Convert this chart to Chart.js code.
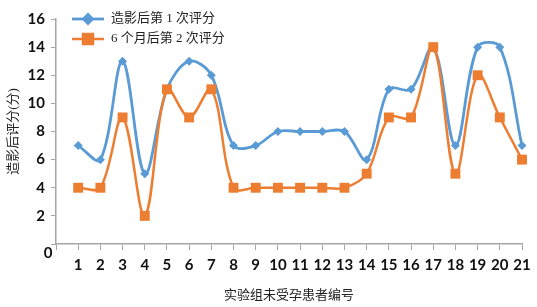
<!DOCTYPE html>
<html>
<head>
<meta charset="utf-8">
<script src="https://cdn.jsdelivr.net/npm/chart.js@4.4.0/dist/chart.umd.min.js"></script>
<style>
  body { margin: 0; background: #fff; }
  #wrap { width: 537px; height: 307px; position: relative; }
</style>
</head>
<body>
<div id="wrap"><canvas id="chart"></canvas></div>
<script>
'use strict';

// 患者编号 (x 轴)
const patients = ['1','2','3','4','5','6','7','8','9','10','11','12','13','14','15','16','17','18','19','20','21'];
// 造影后第 1 次评分
const firstScores = [7, 6, 13, 5, 11, 13, 12, 7, 7, 8, 8, 8, 8, 6, 11, 11, 14, 7, 14, 14, 7];
// 6 个月后第 2 次评分
const secondScores = [4, 4, 9, 2, 11, 9, 11, 4, 4, 4, 4, 4, 4, 5, 9, 9, 14, 5, 12, 9, 6];
const yTicks = [0, 2, 4, 6, 8, 10, 12, 14, 16];

const labelFont = { family: 'Lato', size: 15, weight: 'bold' };
const cjkFont = '"Liberation Serif", "Noto Sans CJK SC", serif';
const blue = '#5b9bd5';
const orange = '#ed7d31';

// 第一个空类目让 1 号从坐标轴起点右移一格
const labels = [''].concat(patients);

// 左上角图例 (线 + 标记)
const legendPlugin = {
    id: 'lineLegend',
    afterDraw(chart) {
        const ctx = chart.ctx;
        const items = [chart.data.datasets[1], chart.data.datasets[0]];
        ctx.save();
        items.forEach((ds, i) => {
            const y = 19 + i * 20;
            ctx.strokeStyle = ds.borderColor;
            ctx.lineWidth = ds.borderWidth;
            ctx.beginPath();
            ctx.moveTo(72, y);
            ctx.lineTo(104, y);
            ctx.stroke();
            Chart.helpers.drawPoint(ctx, {
                pointStyle: ds.pointStyle,
                radius: ds.pointRadius,
                borderWidth: 1
            }, 88, y);
            ctx.fillStyle = ds.borderColor;
            ctx.fill();
            ctx.fillStyle = '#222';
            ctx.font = '13px ' + cjkFont;
            ctx.textBaseline = 'middle';
            ctx.textAlign = 'left';
            ctx.fillText(ds.label, 111, y);
        });
        // 原点 "0"
        const ys = chart.scales.y;
        ctx.font = 'bold 15px Lato';
        ctx.textAlign = 'center';
        ctx.fillStyle = '#111';
        ctx.fillText('0', ys.right - 8, ys.getPixelForValue(0) + 9);
        ctx.restore();
    }
};

new Chart(document.getElementById('chart'), {
    type: 'line',
    data: {
        labels: labels,
        datasets: [
            {
                label: '6 个月后第 2 次评分',
                data: [null].concat(secondScores),
                borderColor: orange,
                backgroundColor: orange,
                borderWidth: 2.5,
                pointStyle: 'rect',
                pointRadius: 7,
                pointBorderWidth: 0,
                tension: 0.35,
                order: 0
            },
            {
                label: '造影后第 1 次评分',
                data: [null].concat(firstScores),
                borderColor: blue,
                backgroundColor: blue,
                borderWidth: 2.8,
                pointStyle: 'rectRot',
                pointRadius: 4.5,
                pointBorderWidth: 0,
                tension: 0.35,
                order: 1
            }
        ]
    },
    options: {
        responsive: true,
        maintainAspectRatio: false,
        animation: false,
        layout: { padding: { left: 0, right: 15, top: 19, bottom: 0 } },
        plugins: {
            legend: { display: false },
            tooltip: { enabled: false }
        },
        scales: {
            x: {
                type: 'category',
                offset: false,
                grid: { drawOnChartArea: false, drawTicks: true, tickLength: 6, color: '#a6a6a6' },
                border: { color: '#a6a6a6', width: 1.5 },
                ticks: { font: labelFont, color: '#111', padding: 6, maxRotation: 0, autoSkip: false },
                title: { display: true, text: '实验组未受孕患者编号', font: { family: cjkFont, size: 13 }, color: '#222', padding: { top: 4, bottom: 4 } },
                afterFit(scale) { scale.height = 63; }
            },
            y: {
                min: 0,
                max: 16,
                afterBuildTicks(scale) { scale.ticks = yTicks.map(v => ({ value: v })); },
                grid: { drawOnChartArea: false, drawTicks: true, tickLength: 5, color: '#a6a6a6' },
                border: { color: '#a6a6a6', width: 1.5 },
                ticks: {
                    font: labelFont,
                    color: '#111',
                    padding: 6,
                    callback: (v) => (v === 0 ? '' : v)
                },
                title: { display: true, text: '造影后评分(分)', font: { family: cjkFont, size: 13 }, color: '#222', padding: { top: 6, bottom: 4 } },
                afterFit(scale) { scale.width = 56; }
            }
        }
    },
    plugins: [legendPlugin]
});
</script>
</body>
</html>
